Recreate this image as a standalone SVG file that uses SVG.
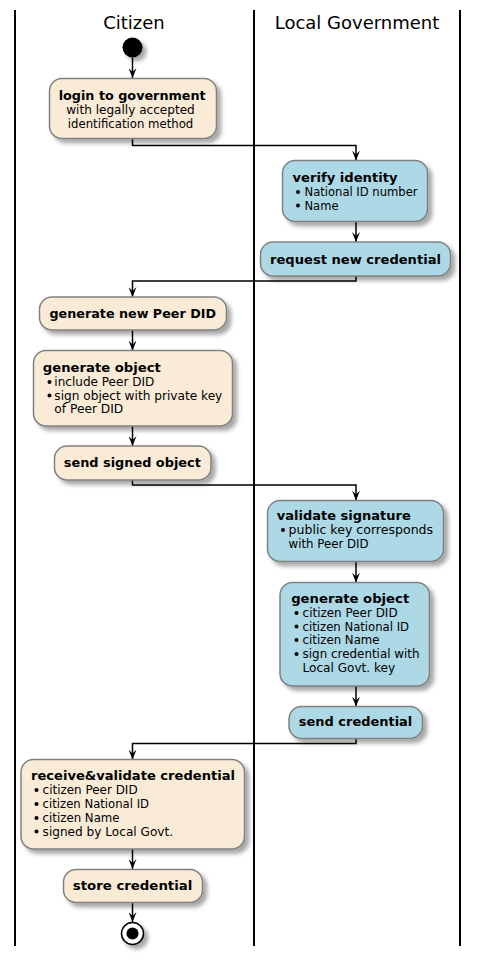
<svg xmlns="http://www.w3.org/2000/svg" width="479" height="961" viewBox="0 0 479 961">
<style>
text{font-family:"DejaVu Sans",Verdana,sans-serif;font-size:12px;fill:#000}
.b{font-weight:bold}
.title{font-size:18px}
.cit{fill:#FAEBD7;stroke:#808080;stroke-width:1.5;filter:url(#sh)}
.gov{fill:#ADD8E6;stroke:#808080;stroke-width:1.5;filter:url(#sh)}
.lane{stroke:#000;stroke-width:2}
.conn path{fill:none;stroke:#000;stroke-width:1.5;marker-end:url(#arr)}
.bul{fill:#000}
</style>
<defs>
<filter id="sh" x="-20%" y="-20%" width="150%" height="160%">
<feDropShadow dx="4" dy="4" stdDeviation="2" flood-color="#000" flood-opacity="0.35"/>
</filter>
<marker id="arr" markerWidth="10" markerHeight="8" refX="10" refY="4" orient="auto" markerUnits="userSpaceOnUse">
<path d="M0,0 L10,4 L0,8 L4,4 Z" fill="#000"/>
</marker>
</defs>
<rect width="479" height="961" fill="#fff"/>
<g id="lanes">
<line class="lane" x1="15" y1="10" x2="15" y2="946"/>
<line class="lane" x1="254" y1="10" x2="254" y2="946"/>
<line class="lane" x1="460" y1="10" x2="460" y2="946"/>
<text class="title" x="134" y="29" text-anchor="middle">Citizen</text>
<text class="title" x="357" y="29" text-anchor="middle">Local Government</text>
</g>
<g class="conn" id="connectors">
<path d="M132.5,57.5 V78"/>
<path d="M132.5,138.5 V145.5 H356 V160.5"/>
<path d="M356,221.5 V242"/>
<path d="M356,276 V281 H132.5 V297"/>
<path d="M132.5,330 V350.5"/>
<path d="M132.5,426 V446"/>
<path d="M132.5,480 V485 H356 V500.5"/>
<path d="M356,561.5 V582.5"/>
<path d="M356,686 V706.5"/>
<path d="M356,738.5 V743.5 H132.5 V759.5"/>
<path d="M132.5,849 V869"/>
<path d="M132.5,902.5 V922"/>
</g>
<g id="start"><circle cx="132.5" cy="47.5" r="10" fill="#000" filter="url(#sh)"/></g>
<g id="login">
<rect class="cit" x="49.5" y="78.5" width="167" height="60" rx="12.5"/>
<text class="b" x="132.2" y="100" text-anchor="middle" textLength="147" lengthAdjust="spacingAndGlyphs">login to government</text>
<text x="130.5" y="114" text-anchor="middle" textLength="128.5" lengthAdjust="spacingAndGlyphs">with legally accepted</text>
<text x="130.5" y="128" text-anchor="middle" textLength="125.5" lengthAdjust="spacingAndGlyphs">identification method</text>
</g>
<g id="verify">
<rect class="gov" x="282.5" y="160.5" width="145" height="61" rx="12.5"/>
<text class="b" x="292.5" y="182" textLength="105" lengthAdjust="spacingAndGlyphs">verify identity</text>
<circle class="bul" cx="298" cy="192" r="2"/><text x="304.5" y="196" textLength="113" lengthAdjust="spacingAndGlyphs">National ID number</text>
<circle class="bul" cx="298" cy="205.5" r="2"/><text x="304.5" y="209.5" textLength="34" lengthAdjust="spacingAndGlyphs">Name</text>
</g>
<g id="request">
<rect class="gov" x="260.5" y="242" width="190" height="34" rx="12.5"/>
<text class="b" x="270" y="263.5" textLength="171" lengthAdjust="spacingAndGlyphs">request new credential</text>
</g>
<g id="genDID">
<rect class="cit" x="39.5" y="297" width="187" height="33" rx="12.5"/>
<text class="b" x="49.5" y="317.5" textLength="166.5" lengthAdjust="spacingAndGlyphs">generate new Peer DID</text>
</g>
<g id="genObj">
<rect class="cit" x="33.5" y="350.5" width="199" height="75.5" rx="12.5"/>
<text class="b" x="42.8" y="372" textLength="118" lengthAdjust="spacingAndGlyphs">generate object</text>
<circle class="bul" cx="49.5" cy="382" r="2"/><text x="54.3" y="386" textLength="100" lengthAdjust="spacingAndGlyphs">include Peer DID</text>
<circle class="bul" cx="49.5" cy="395.5" r="2"/><text x="54.3" y="399.5" textLength="168" lengthAdjust="spacingAndGlyphs">sign object with private key</text>
<text x="54.3" y="413" textLength="69" lengthAdjust="spacingAndGlyphs">of Peer DID</text>
</g>
<g id="sendSigned">
<rect class="cit" x="54.5" y="446" width="156.5" height="34" rx="12.5"/>
<text class="b" x="63.8" y="467" textLength="137" lengthAdjust="spacingAndGlyphs">send signed object</text>
</g>
<g id="validate">
<rect class="gov" x="267.5" y="500.5" width="176" height="61" rx="12.5"/>
<text class="b" x="276.8" y="520" textLength="134" lengthAdjust="spacingAndGlyphs">validate signature</text>
<circle class="bul" cx="283" cy="530" r="2"/><text x="288.6" y="534" textLength="144.5" lengthAdjust="spacingAndGlyphs">public key corresponds</text>
<text x="288.6" y="547.5" textLength="80" lengthAdjust="spacingAndGlyphs">with Peer DID</text>
</g>
<g id="genObj2">
<rect class="gov" x="280" y="582.5" width="149.5" height="103.5" rx="12.5"/>
<text class="b" x="291.2" y="603" textLength="118" lengthAdjust="spacingAndGlyphs">generate object</text>
<circle class="bul" cx="296.5" cy="613" r="2"/><text x="302.6" y="617" textLength="95" lengthAdjust="spacingAndGlyphs">citizen Peer DID</text>
<circle class="bul" cx="296.5" cy="626.5" r="2"/><text x="302.6" y="630.5" textLength="106.5" lengthAdjust="spacingAndGlyphs">citizen National ID</text>
<circle class="bul" cx="296.5" cy="640" r="2"/><text x="302.6" y="644" textLength="77" lengthAdjust="spacingAndGlyphs">citizen Name</text>
<circle class="bul" cx="296.5" cy="654" r="2"/><text x="302.6" y="658" textLength="117" lengthAdjust="spacingAndGlyphs">sign credential with</text>
<text x="302.6" y="671.5" textLength="92.5" lengthAdjust="spacingAndGlyphs">Local Govt. key</text>
</g>
<g id="sendCred">
<rect class="gov" x="289" y="706.5" width="133.5" height="32" rx="12.5"/>
<text class="b" x="298.8" y="726" textLength="113.5" lengthAdjust="spacingAndGlyphs">send credential</text>
</g>
<g id="receive">
<rect class="cit" x="21" y="759.5" width="223.5" height="89.5" rx="12.5"/>
<text class="b" x="31" y="780" textLength="204" lengthAdjust="spacingAndGlyphs">receive&amp;validate credential</text>
<circle class="bul" cx="36.5" cy="790" r="2"/><text x="42.6" y="794" textLength="95" lengthAdjust="spacingAndGlyphs">citizen Peer DID</text>
<circle class="bul" cx="36.5" cy="804" r="2"/><text x="42.6" y="808" textLength="106.5" lengthAdjust="spacingAndGlyphs">citizen National ID</text>
<circle class="bul" cx="36.5" cy="818" r="2"/><text x="42.6" y="822" textLength="77" lengthAdjust="spacingAndGlyphs">citizen Name</text>
<circle class="bul" cx="36.5" cy="831.5" r="2"/><text x="42.6" y="835.5" textLength="130.5" lengthAdjust="spacingAndGlyphs">signed by Local Govt.</text>
</g>
<g id="store">
<rect class="cit" x="63.5" y="869.5" width="139" height="33" rx="12.5"/>
<text class="b" x="72.8" y="890" textLength="119.5" lengthAdjust="spacingAndGlyphs">store credential</text>
</g>
<g id="end">
<circle cx="132.5" cy="933.5" r="11" fill="#fff" stroke="#000" stroke-width="1.5" filter="url(#sh)"/>
<circle cx="132.5" cy="933.5" r="6" fill="#000"/>
</g>
</svg>
